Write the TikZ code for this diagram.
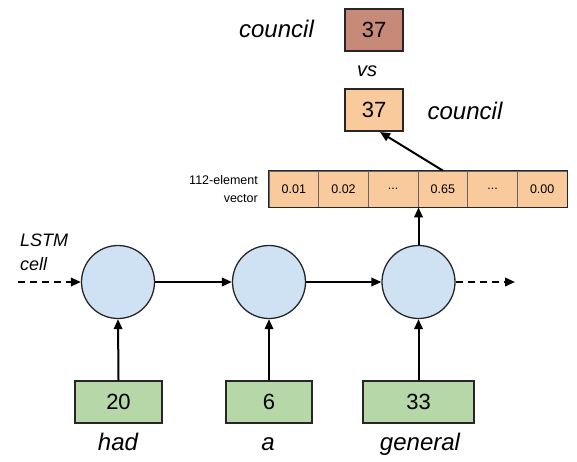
\documentclass[tikz,border=0pt]{standalone}
\usepackage{fontspec}
\setmainfont{Liberation Sans}
\usetikzlibrary{arrows.meta,calc}
\definecolor{cellblue}{HTML}{CFE2F3}
\definecolor{boxgreen}{HTML}{B6D7A8}
\definecolor{boxorange}{HTML}{F9CB9C}
\definecolor{boxred}{HTML}{C88A78}
\tikzset{
  cell/.style={circle, draw=black!85, line width=1.3pt, fill=cellblue, minimum size=73pt, inner sep=0pt},
  idbox/.style={rectangle, draw=black!85, line width=2pt, fill=boxgreen, minimum height=42pt, inner sep=0pt, font=\fontsize{22}{24}\selectfont},
  topbox/.style={rectangle, draw=black!85, line width=2pt, minimum width=58pt, minimum height=42pt, inner sep=0pt, font=\fontsize{22}{24}\selectfont},
  vcell/.style={rectangle, draw=black!60, line width=0.8pt, fill=boxorange, minimum width=49.67pt, minimum height=36pt, inner sep=0pt, font=\fontsize{12.5}{14}\selectfont},
  word/.style={anchor=base, inner sep=0pt, font=\fontsize{24}{26}\selectfont\itshape},
  small/.style={inner sep=0pt, font=\fontsize{12.5}{14}\selectfont},
  arr/.style={line width=2pt, -{Triangle[length=10pt,width=8.5pt]}},
  darr/.style={arr, dash pattern=on 7pt off 5pt}
}
\begin{document}
\begin{tikzpicture}[x=1pt,y=-1pt]
\useasboundingbox (0,0) rectangle (577,462);
% top comparison
\node[topbox, fill=boxred] (b1top) at (374,30) {37};
\node[topbox, fill=boxorange] (b2top) at (374,110) {37};
\node[word] (w1) at (276.5,38) {council};
\node[word] (w2) at (465,120) {council};
\node[word, font=\fontsize{20}{22}\selectfont\itshape] (vs) at (367,77) {vs};
% vector
\node[vcell] (v1) at (293.8,189) {0.01};
\node[vcell] (v2) at (343.5,189) {0.02};
\node[vcell] (v3) at (393.2,189) {...};
\node[vcell] (v4) at (442.8,189) {0.65};
\node[vcell] (v5) at (492.5,189) {...};
\node[vcell] (v6) at (542.2,189) {0.00};
\draw[black!85, line width=1pt] (v1.north west) rectangle (v6.south east);
\node[small, anchor=base east] (lbl1) at (258,185) {112-element};
\node[small, anchor=base east] (lbl2) at (258,202) {vector};
% LSTM cells
\node[cell] (c1) at (118,282) {};
\node[cell] (c2) at (269,282) {};
\node[cell] (c3) at (418.5,282) {};
\node[anchor=base west, inner sep=0pt, font=\fontsize{18}{20}\selectfont\itshape] (lstm1) at (20,246.5) {LSTM};
\node[anchor=base west, inner sep=0pt, font=\fontsize{18}{20}\selectfont\itshape] (lstm2) at (20,270) {cell};
% input boxes
\node[idbox, minimum width=87pt] (i1) at (118.5,402) {20};
\node[idbox, minimum width=86pt] (i2) at (269,402) {6};
\node[idbox, minimum width=111pt] (i3) at (418.5,402) {33};
\node[word] (t1) at (118,450) {had};
\node[word] (t2) at (268,450) {a};
\node[word] (t3) at (420,450) {general};
% connectors
\coordinate (inL) at (18,282);
\coordinate (outR) at (515,282);
\draw[darr] (inL) -- (c1.west);
\draw[arr] (c1.east) -- (c2.west);
\draw[arr] (c2.east) -- (c3.west);
\draw[darr] (c3.east) -- (outR);
\draw[arr] (i1.north) -- (c1.south);
\draw[arr] (i2.north) -- (c2.south);
\draw[arr] (i3.north) -- (c3.south);
\draw[arr] (c3.north) -- (c3 |- v4.south);
\draw[arr] (v4.north) -- ($(b2top.south)+(6,0)$);
\end{tikzpicture}
\end{document}
